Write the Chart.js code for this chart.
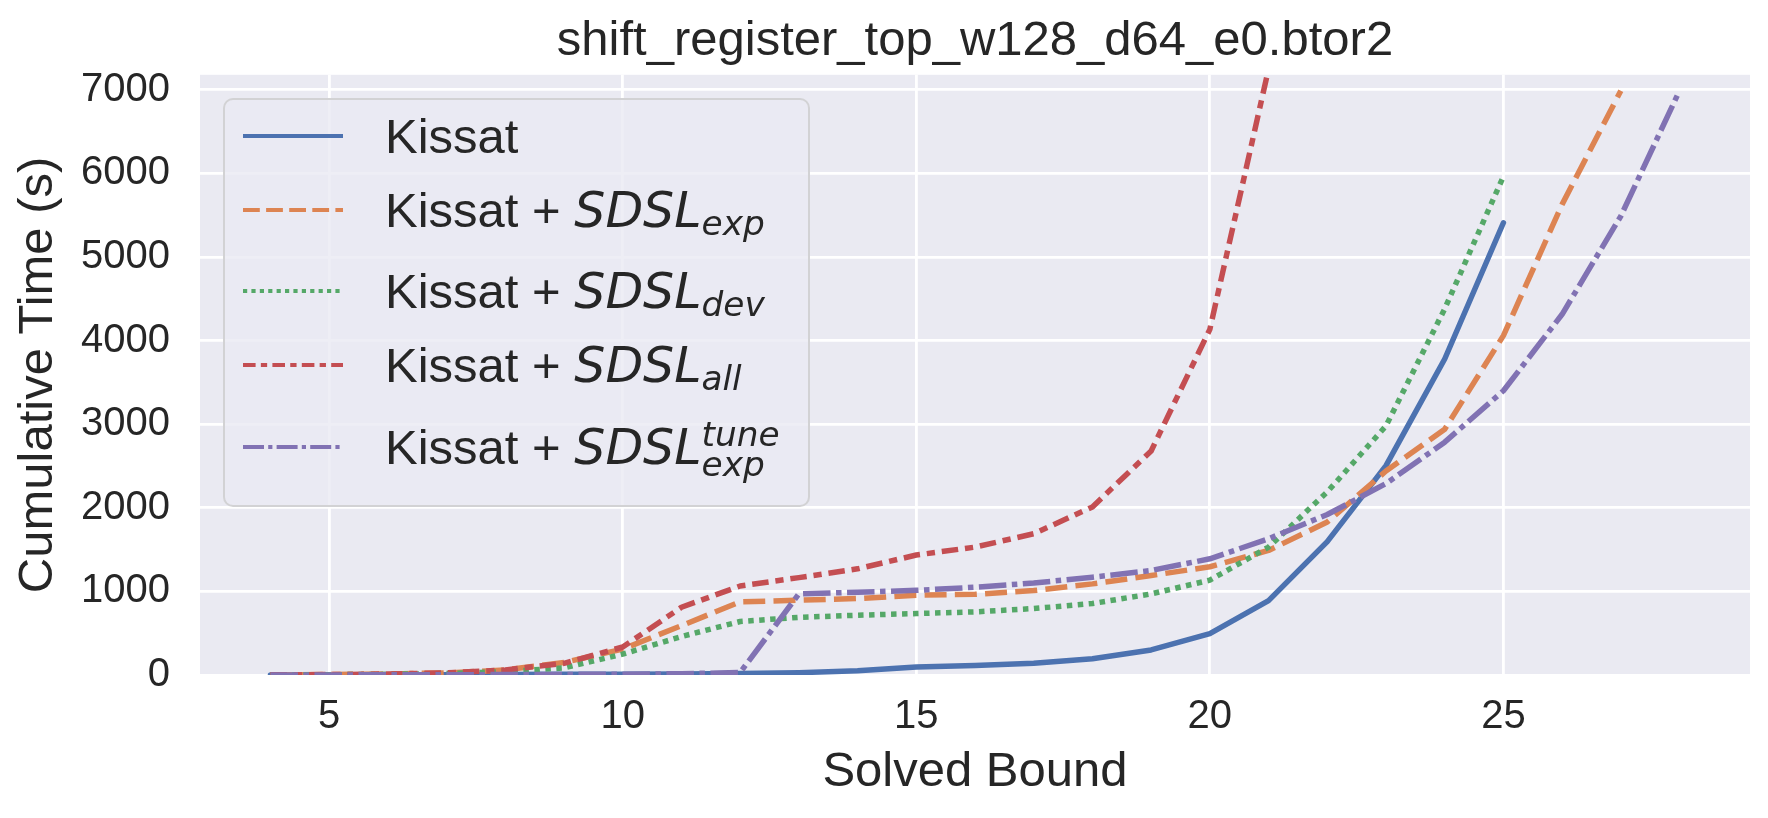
<!DOCTYPE html>
<html>
<head>
<meta charset="utf-8">
<script src="https://cdn.jsdelivr.net/npm/chart.js@4.4.1/dist/chart.umd.min.js"></script>
<style>
  html, body { margin: 0; padding: 0; background: #ffffff; }
  #wrap { position: relative; width: 1768px; height: 818px; overflow: hidden; }
  #c { position: absolute; left: 0; top: 0; }
  #legend {
    position: absolute; left: 223px; top: 98px; width: 583px; height: 405px;
    border: 2px solid rgba(204,204,204,0.8); border-radius: 10px;
    background: rgba(234,234,242,0.8);
    font-family: 'Liberation Sans', Arial, sans-serif; color: #262626;
  }
  .row-h { position: absolute; left: 18px; width: 100px; height: 10px; }
  .row-t { position: absolute; left: 160px; font-size: 49px; line-height: 49px; white-space: nowrap; }
  .mi { font-family: 'DejaVu Sans', sans-serif; font-style: italic; }
  .sub { font-size: 0.7em; position: relative; top: 8.3px; }
  .sup { font-size: 0.7em; position: relative; top: -17.3px; display: inline-block; width: 0; white-space: nowrap; }
  .sub2 { font-size: 0.7em; position: relative; top: 12.7px; }
</style>
</head>
<body>
<div id="wrap">
  <canvas id="c" width="1768" height="818"></canvas>
  <div id="legend"></div>
</div>
<script>
// ---------------- data ----------------
const chartTitle = 'shift_register_top_w128_d64_e0.btor2';
const xLabel = 'Solved Bound';
const yLabel = 'Cumulative Time (s)';

const bounds = [4, 5, 6, 7, 8, 9, 10, 11, 12, 13, 14, 15, 16, 17, 18, 19, 20, 21, 22, 23, 24, 25, 26, 27, 28];

const kissat      = [1, 2, 3, 4, 6, 8, 10, 13, 18, 28, 50, 95, 115, 140, 195, 300, 495, 890, 1595, 2505, 3780, 5410];
const sdslExp     = [2, 5, 12, 25, 60, 150, 310, 590, 875, 895, 915, 955, 965, 1010, 1090, 1190, 1295, 1490, 1830, 2440, 2940, 4060, 5630, 6990];
const sdslDev     = [1, 3, 8, 18, 40, 85, 250, 460, 640, 690, 715, 735, 755, 795, 855, 970, 1135, 1530, 2190, 2980, 4380, 5965];
const sdslAll     = [2, 5, 12, 25, 60, 140, 335, 810, 1065, 1165, 1270, 1435, 1530, 1690, 2010, 2680, 4135, 7250];
const sdslExpTune = [0, 1, 2, 3, 5, 7, 10, 15, 30, 970, 990, 1013, 1050, 1100, 1170, 1250, 1390, 1630, 1920, 2290, 2785, 3400, 4315, 5490, 6990];

const seriesLabels = ['Kissat', 'Kissat + SDSL_{exp}', 'Kissat + SDSL_{dev}', 'Kissat + SDSL_{all}', 'Kissat + SDSL_{exp}^{tune}'];
const xTicks = [5, 10, 15, 20, 25];
const yTicks = [0, 1000, 2000, 3000, 4000, 5000, 6000, 7000];

// ---------------- styles ----------------
const seriesValues = [kissat, sdslExp, sdslDev, sdslAll, sdslExpTune];
const colors = ['#4C72B0', '#DD8452', '#55A868', '#C44E52', '#8172B3'];
const dashUnits = [[], [4, 1.5], [1, 1], [3, 1.25, 1.5, 1.25], [5, 1, 1, 1]];
const LW = 5.5, LEG_LW = 4.2;
const legendRowY = [135.7, 210, 290.5, 364.5, 446.7]; // absolute page y of legend handles
const FONT = "'Liberation Sans', Arial, sans-serif";
const TXT = '#262626';

Chart.defaults.font.family = FONT;
Chart.defaults.color = TXT;

const datasets = seriesValues.map((vals, i) => ({
  label: seriesLabels[i].replace(/[{}]/g, ''),
  data: vals.map((v, j) => ({ x: bounds[j], y: v })),
  borderColor: colors[i],
  backgroundColor: colors[i],
  borderWidth: LW,
  borderDash: dashUnits[i].map(d => d * LW),
  borderCapStyle: dashUnits[i].length ? 'butt' : 'round',
  borderJoinStyle: 'round',
  pointRadius: 0, pointHoverRadius: 0,
  tension: 0, fill: false,
  order: seriesValues.length - i,
  clip: 0
}));

function labelHTML(lbl) {
  const m = lbl.match(/^(.*?\+ )(\w+)(?:_\{(\w+)\})?(?:\^\{(\w+)\})?$/);
  if (!m) return lbl;
  let h = m[1] + '<span class="mi">' + m[2] + '</span>';
  if (m[4]) h += '<span class="mi sup">' + m[4] + '</span><span class="mi sub2">' + m[3] + '</span>';
  else if (m[3]) h += '<span class="mi sub">' + m[3] + '</span>';
  return h;
}

const htmlLegend = {
  id: 'htmlLegend',
  afterUpdate(chart) {
    const box = document.getElementById('legend');
    box.innerHTML = '';
    chart.data.datasets.forEach((ds, i) => {
      const cy = legendRowY[i] - 100;
      const svgNS = 'http://www.w3.org/2000/svg';
      const svg = document.createElementNS(svgNS, 'svg');
      svg.setAttribute('class', 'row-h');
      svg.setAttribute('width', '100'); svg.setAttribute('height', '10');
      svg.style.top = (cy - 5) + 'px';
      const ln = document.createElementNS(svgNS, 'line');
      ln.setAttribute('x1', '0'); ln.setAttribute('x2', '100');
      ln.setAttribute('y1', '5'); ln.setAttribute('y2', '5');
      ln.setAttribute('stroke', ds.borderColor);
      ln.setAttribute('stroke-width', String(LEG_LW));
      if (dashUnits[i].length) ln.setAttribute('stroke-dasharray', dashUnits[i].map(d => d * LEG_LW).join(' '));
      ln.setAttribute('stroke-linecap', dashUnits[i].length ? 'butt' : 'round');
      svg.appendChild(ln);
      box.appendChild(svg);
      const t = document.createElement('div');
      t.className = 'row-t';
      t.style.top = (legendRowY[i] + 17.5 - 41.5 - 100) + 'px';
      t.innerHTML = labelHTML(seriesLabels[i]);
      box.appendChild(t);
    });
  }
};

const bgPlugin = {
  id: 'bg',
  beforeDraw(chart) {
    const { ctx, chartArea: a } = chart;
    ctx.save();
    ctx.fillStyle = '#EAEAF2';
    ctx.fillRect(a.left, a.top, a.right - a.left, a.bottom - a.top);
    ctx.restore();
  }
};

new Chart(document.getElementById('c'), {
  type: 'line',
  data: { datasets },
  plugins: [bgPlugin, htmlLegend],
  options: {
    responsive: false,
    animation: false,
    devicePixelRatio: 1,
    layout: { padding: { left: 0, right: 18, top: 0, bottom: 0 } },
    plugins: {
      legend: { display: false },
      tooltip: { enabled: false },
      title: {
        display: true, text: chartTitle, fullSize: false, align: 'center',
        font: { size: 49, weight: 'normal', family: FONT }, color: TXT,
        padding: { top: 12, bottom: 4 }
      }
    },
    scales: {
      x: {
        type: 'linear', min: 2.8, max: 29.2,
        afterBuildTicks: s => { s.ticks = xTicks.map(v => ({ value: v })); },
        afterFit: s => { s.height = 143; },
        grid: { color: '#ffffff', lineWidth: 2.8, drawTicks: false },
        border: { display: false },
        ticks: { font: { size: 40 }, color: TXT, padding: 18, maxRotation: 0, callback: v => String(v) },
        title: { display: true, text: xLabel, font: { size: 49 }, color: TXT, padding: { top: 16, bottom: 16 } }
      },
      y: {
        type: 'linear', min: 0, max: 7180,
        afterBuildTicks: s => { s.ticks = yTicks.map(v => ({ value: v })); },
        afterFit: s => { s.width = 200; },
        grid: { color: '#ffffff', lineWidth: 2.8, drawTicks: false },
        border: { display: false },
        ticks: { font: { size: 40 }, color: TXT, padding: 30, callback: v => String(v) },
        title: { display: true, text: yLabel, font: { size: 49 }, color: TXT, padding: { top: 9, bottom: 9 } }
      }
    }
  }
});
</script>
</body>
</html>
